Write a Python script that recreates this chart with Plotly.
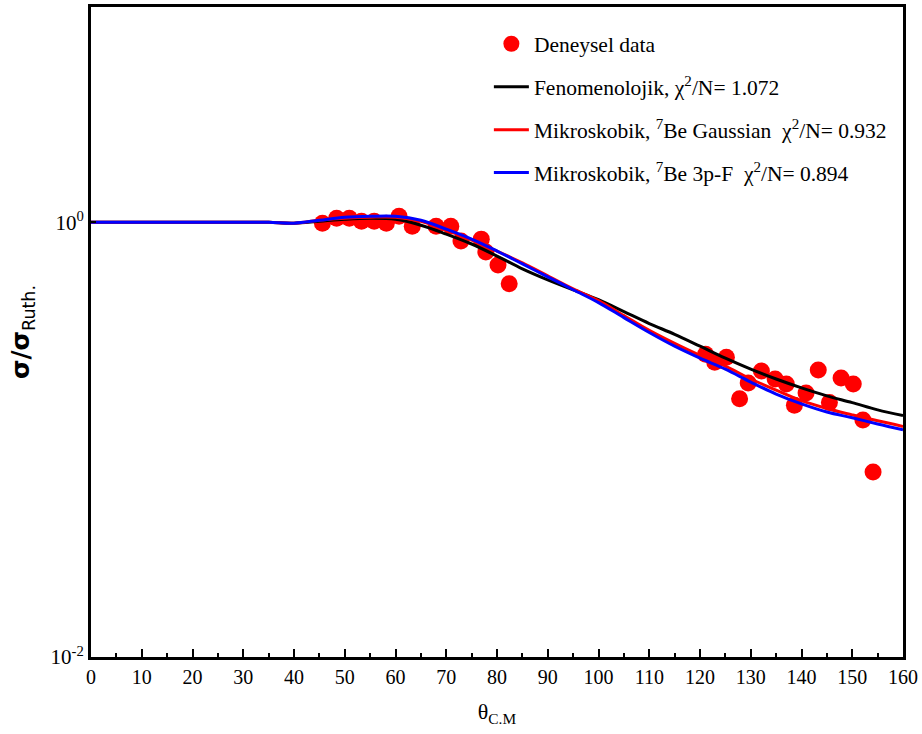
import plotly.graph_objects as go

# Experimental data (theta C.M., sigma/sigma_Ruth)
exp_theta = [45.6, 48.4, 50.9, 53.3, 55.8, 58.2, 60.7, 63.3, 68.0, 70.9, 72.9, 76.9, 77.8, 80.2, 82.4,
             121.1, 122.9, 125.2, 127.8, 129.5, 132.1, 134.8, 137.0, 138.6, 140.9, 143.3, 145.5, 147.8,
             150.2, 152.1, 154.1]
exp_ratio = [0.989, 1.043, 1.043, 1.011, 1.011, 0.989, 1.065, 0.959, 0.959, 0.959, 0.819, 0.836, 0.730,
             0.636, 0.521,
             0.247, 0.227, 0.239, 0.154, 0.182, 0.207, 0.190, 0.180, 0.144, 0.164, 0.209, 0.148, 0.192,
             0.180, 0.123, 0.071]

theta_grid = [0, 5, 10, 15, 20, 25, 30, 35, 40, 45, 50, 55, 60, 65, 70, 75, 80, 85, 90, 95, 100,
              105, 110, 115, 120, 125, 130, 135, 140, 145, 150, 155, 160]

fenomenolojik = [1.000, 1.000, 1.000, 1.000, 1.000, 1.000, 1.000, 1.000, 0.990, 1.011, 1.032, 1.043,
                 1.032, 0.969, 0.882, 0.794, 0.699, 0.610, 0.543, 0.489, 0.440, 0.388, 0.342, 0.305,
                 0.269, 0.237, 0.211, 0.190, 0.173, 0.159, 0.148, 0.137, 0.129]
gaussian = [1.000, 1.000, 1.000, 1.000, 1.000, 1.000, 1.000, 1.000, 0.990, 1.021, 1.043, 1.054,
            1.054, 1.011, 0.919, 0.828, 0.737, 0.650, 0.567, 0.494, 0.436, 0.372, 0.318, 0.277,
            0.244, 0.218, 0.190, 0.169, 0.151, 0.139, 0.130, 0.122, 0.115]
three_pf = [1.000, 1.000, 1.000, 1.000, 1.000, 1.000, 1.000, 1.000, 0.990, 1.021, 1.054, 1.065,
            1.065, 1.021, 0.929, 0.836, 0.737, 0.643, 0.561, 0.489, 0.427, 0.364, 0.311, 0.269,
            0.237, 0.211, 0.184, 0.162, 0.146, 0.134, 0.126, 0.118, 0.111]

x_ticks = list(range(0, 161, 10))
y_tickvals = [1, 0.01]
y_ticktext = ["10<sup>0</sup>", "10<sup>-2</sup>"]

serif = "Liberation Serif, Times New Roman, serif"

fig = go.Figure()
fig.add_trace(go.Scatter(
    x=exp_theta, y=exp_ratio, mode="markers", name="Deneysel data",
    marker=dict(color="#ff0000", size=17, line=dict(width=0)), legendgroup="a"))
fig.add_trace(go.Scatter(
    x=theta_grid, y=fenomenolojik, mode="lines", line=dict(color="black", width=3, shape="spline"),
    name="Fenomenolojik, χ<sup>2</sup>/N= 1.072", legendgroup="b"))
fig.add_trace(go.Scatter(
    x=theta_grid, y=gaussian, mode="lines", line=dict(color="#ff0000", width=3, shape="spline"),
    name="Mikroskobik, <sup>7</sup>Be Gaussian  χ<sup>2</sup>/N= 0.932", legendgroup="c"))
fig.add_trace(go.Scatter(
    x=theta_grid, y=three_pf, mode="lines", line=dict(color="#0000ff", width=3, shape="spline"),
    name="Mikroskobik, <sup>7</sup>Be 3p-F  χ<sup>2</sup>/N= 0.894", legendgroup="d"))

fig.update_layout(
    width=922, height=734,
    margin=dict(l=91, r=18, t=4, b=77),
    paper_bgcolor="white", plot_bgcolor="white",
    font=dict(family=serif, color="black", size=20),
    showlegend=True,
    legend=dict(x=0.49, y=0.975, xanchor="left", yanchor="top",
                bgcolor="rgba(0,0,0,0)", font=dict(family=serif, size=21.5),
                tracegroupgap=12, traceorder="grouped", itemwidth=35),
    xaxis=dict(range=[0, 160], tickvals=x_ticks, ticks="inside", ticklen=8, tickwidth=2,
               tickcolor="black", showline=True, linecolor="black", linewidth=3, mirror=True,
               showgrid=False, zeroline=False, tickfont=dict(family=serif, size=20),
               minor=dict(ticks="inside", ticklen=4, tickwidth=2, tickcolor="black", dtick=5),
               title=dict(text="θ<sub>C.M</sub>", font=dict(family=serif, size=22), standoff=17)),
    yaxis=dict(type="log", range=[-2, 0.99], tickvals=y_tickvals, ticktext=y_ticktext,
               ticks="inside", ticklen=5, tickwidth=2, tickcolor="black",
               showline=True, linecolor="black", linewidth=3, mirror=True,
               showgrid=False, zeroline=False, tickfont=dict(family=serif, size=21),
               title=dict(text="<b>σ/σ</b><sub>Ruth.</sub>",
                          font=dict(family="DejaVu Sans, Arial, sans-serif", size=25), standoff=14)),
)

fig.write_html("out.html", config={"displayModeBar": False},
               post_script="document.body.style.margin='0';")
